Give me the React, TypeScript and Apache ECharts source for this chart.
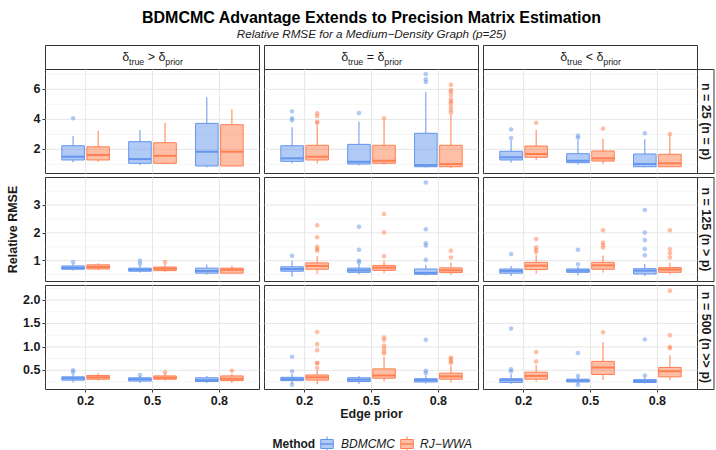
import React, { useEffect, useRef } from 'react';
import * as echarts from 'echarts';

// ---------- categories / labels ----------
const edgePriors = ['0.2', '0.5', '0.8'];
const methods = ['BDMCMC', 'RJ−WWA'];
const relations = ['>', '=', '<'];
const sampleSizeLabels = ['n = 25 (n = p)', 'n = 125 (n > p)', 'n = 500 (n >> p)'];

// ---------- y axes per row ----------
const yRanges = [[0.39, 7.32], [0.25, 3.99], [0.09, 2.31]];
const yMajorTicks = [[2, 4, 6], [1, 2, 3], [0.5, 1.0, 1.5, 2.0]];
const yMinorTicks = [[1, 3, 5, 7], [0.5, 1.5, 2.5, 3.5], [0.25, 0.75, 1.25, 1.75, 2.25]];
const yDecimals = [0, 0, 1];

// ---------- box stats: [lower whisker, q1, median, q3, upper whisker] ; [scenario][edge prior] ----------
const bdmcmcN25 = [
  [[1.13, 1.29, 1.51, 2.24, 2.89], [0.95, 1.07, 1.35, 2.51, 3.29], [0.80, 0.89, 1.84, 3.73, 5.47]],
  [[1.07, 1.20, 1.40, 2.24, 3.47], [0.93, 1.02, 1.17, 2.33, 3.84], [0.78, 0.84, 0.95, 3.07, 5.82]],
  [[1.11, 1.29, 1.47, 1.87, 2.60], [1.00, 1.11, 1.24, 1.71, 2.62], [0.80, 0.84, 1.02, 1.69, 2.67]],
];
const rjwwaN25 = [
  [[1.17, 1.29, 1.62, 2.17, 3.24], [1.02, 1.07, 1.57, 2.44, 3.77], [0.85, 0.89, 1.84, 3.64, 4.67]],
  [[1.07, 1.29, 1.51, 2.27, 3.62], [0.98, 1.07, 1.24, 2.27, 3.98], [0.76, 0.84, 1.02, 2.27, 4.30]],
  [[1.29, 1.47, 1.69, 2.22, 3.29], [1.02, 1.22, 1.40, 1.89, 2.71], [0.80, 0.84, 1.07, 1.67, 2.95]],
];
const bdmcmcN25Outliers = [
  [[4.07], [], []],
  [[4.53, 4.07, 3.93], [4.42], [7.02, 6.67, 6.49]],
  [[3.33, 2.75], [2.91, 2.78], [3.07]],
];
const rjwwaN25Outliers = [
  [[], [], []],
  [[4.40, 4.22, 3.84, 3.77], [4.07], [6.31, 5.96, 5.84, 5.62, 5.33, 5.18, 5.07, 4.84, 4.62, 4.44]],
  [[3.77], [3.38], [3.02]],
];

const bdmcmcN125 = [
  [[0.64, 0.69, 0.74, 0.81, 0.90], [0.57, 0.62, 0.67, 0.73, 0.82], [0.50, 0.55, 0.63, 0.73, 0.86]],
  [[0.42, 0.62, 0.70, 0.78, 1.00], [0.51, 0.58, 0.65, 0.73, 0.88], [0.47, 0.51, 0.56, 0.70, 0.85]],
  [[0.45, 0.55, 0.63, 0.70, 0.81], [0.47, 0.58, 0.64, 0.70, 0.78], [0.45, 0.52, 0.64, 0.71, 0.88]],
];
const rjwwaN125 = [
  [[0.66, 0.70, 0.77, 0.85, 0.90], [0.60, 0.64, 0.71, 0.77, 0.88], [0.52, 0.55, 0.67, 0.73, 0.82]],
  [[0.52, 0.69, 0.81, 0.92, 1.17], [0.55, 0.65, 0.75, 0.83, 1.00], [0.49, 0.57, 0.65, 0.74, 0.93]],
  [[0.53, 0.68, 0.82, 0.94, 1.20], [0.57, 0.69, 0.83, 0.94, 1.19], [0.50, 0.58, 0.68, 0.75, 0.93]],
];
const bdmcmcN125Outliers = [
  [[0.95], [1.00, 0.89], []],
  [[1.18], [2.22, 1.39, 1.00, 0.94], [3.81, 2.13, 1.63, 1.54, 1.03]],
  [[1.24], [1.39, 0.87], [2.82, 2.01, 1.74, 1.42, 1.19]],
];
const rjwwaN125Outliers = [
  [[], [0.95], []],
  [[2.27, 1.84, 1.50, 1.42, 1.36], [2.68, 2.02, 1.16], [1.36, 1.11]],
  [[1.78, 1.47, 1.39, 1.31], [2.09, 1.65, 1.56, 1.47], [2.09, 1.41, 1.27, 1.11]],
];

const bdmcmcN500 = [
  [[0.24, 0.29, 0.33, 0.36, 0.42], [0.23, 0.27, 0.31, 0.34, 0.38], [0.23, 0.26, 0.29, 0.34, 0.38]],
  [[0.21, 0.28, 0.31, 0.35, 0.42], [0.21, 0.26, 0.30, 0.34, 0.38], [0.22, 0.25, 0.29, 0.32, 0.39]],
  [[0.21, 0.24, 0.29, 0.32, 0.42], [0.22, 0.25, 0.28, 0.31, 0.36], [0.22, 0.24, 0.27, 0.30, 0.35]],
];
const rjwwaN500 = [
  [[0.28, 0.31, 0.35, 0.39, 0.44], [0.28, 0.31, 0.34, 0.38, 0.44], [0.23, 0.28, 0.32, 0.38, 0.42]],
  [[0.20, 0.29, 0.35, 0.40, 0.50], [0.26, 0.33, 0.39, 0.53, 0.79], [0.24, 0.31, 0.37, 0.44, 0.60]],
  [[0.26, 0.31, 0.38, 0.46, 0.61], [0.29, 0.41, 0.56, 0.69, 1.10], [0.29, 0.36, 0.48, 0.56, 0.82]],
];
const bdmcmcN500Outliers = [
  [[0.50, 0.46], [0.40], []],
  [[0.79, 0.48, 0.19], [], [1.15, 0.49, 0.44]],
  [[1.39, 0.52, 0.48], [0.87, 0.38, 0.19], [1.16, 0.39]],
];
const rjwwaN500Outliers = [
  [[], [0.46], [0.49]],
  [[1.32, 1.06, 0.93, 0.66, 0.65, 0.55], [1.20, 1.15, 1.03, 0.97, 0.90, 0.86], [0.77, 0.74, 0.69, 0.66]],
  [[0.89, 0.69], [1.31], [2.20, 1.25, 1.00, 0.97]],
];

// ---------- layout / style ----------
const COLS = [45.5, 264.5, 483.5];
const PW = 214;
const ROWS = [69.5, 177.5, 285.5];
const PH = 104;
const STRIP_TOP = 45.5;
const STRIP_H = 24;
const STRIP_R_W = 16.5;
const COLORS = ['#6495ED', '#FF7F50'];
const FILLS = ['rgba(100,149,237,0.5)', 'rgba(255,127,80,0.5)'];
const DODGE = [-0.1875, 0.1875];
const HALF = 0.16875;
const FONT = '"Liberation Sans", Arial, Helvetica, sans-serif';
const INK = '#1a1a1a';

const statsByRow = [[bdmcmcN25, rjwwaN25], [bdmcmcN125, rjwwaN125], [bdmcmcN500, rjwwaN500]];
const outByRow = [
  [bdmcmcN25Outliers, rjwwaN25Outliers],
  [bdmcmcN125Outliers, rjwwaN125Outliers],
  [bdmcmcN500Outliers, rjwwaN500Outliers],
];

let measureCtx: CanvasRenderingContext2D | null = null;
function measure(text: string, size: number, weight = 'normal', style = 'normal') {
  if (!measureCtx) measureCtx = document.createElement('canvas').getContext('2d');
  measureCtx!.font = `${style} ${weight} ${size}px ${FONT}`;
  return measureCtx!.measureText(text).width;
}

function stripLabel(cx: number, rel: string) {
  const main = 12.5;
  const sub = 8.75;
  const yMain = STRIP_TOP + STRIP_H / 2 - 0.5;
  const ySub = yMain + 4.5;
  const parts = [
    { t: 'δ', s: main, y: yMain },
    { t: 'true', s: sub, y: ySub },
    { t: ' ' + rel + ' ', s: main, y: yMain },
    { t: 'δ', s: main, y: yMain },
    { t: 'prior', s: sub, y: ySub },
  ];
  const widths = parts.map((p) => measure(p.t, p.s));
  const total = widths.reduce((a, b) => a + b, 0);
  let x = cx - total / 2;
  const els: any[] = [];
  parts.forEach((p, i) => {
    els.push({
      type: 'text',
      x,
      y: p.y,
      silent: true,
      style: { text: p.t, fontSize: p.s, fontFamily: FONT, fill: INK, align: 'left', verticalAlign: 'middle' },
    });
    x += widths[i];
  });
  return els;
}

function legendKey(cx: number, m: number) {
  const top = 436.5;
  return [
    { type: 'line', shape: { x1: cx, y1: top, x2: cx, y2: top + 3 }, style: { stroke: COLORS[m], lineWidth: 1 } },
    { type: 'line', shape: { x1: cx, y1: top + 12, x2: cx, y2: top + 15 }, style: { stroke: COLORS[m], lineWidth: 1 } },
    { type: 'rect', shape: { x: cx - 6.3, y: top + 3, width: 12.6, height: 9 }, style: { fill: FILLS[m], stroke: COLORS[m], lineWidth: 1 } },
    { type: 'line', shape: { x1: cx - 6.3, y1: top + 7.5, x2: cx + 6.3, y2: top + 7.5 }, style: { stroke: COLORS[m], lineWidth: 1.5 } },
  ];
}

function buildOption() {
  const grid: any[] = [];
  const xAxis: any[] = [];
  const yAxis: any[] = [];
  const series: any[] = [];
  const graphic: any[] = [];

  for (let r = 0; r < 3; r++) {
    for (let c = 0; c < 3; c++) {
      const idx = r * 3 + c;
      const [ymin, ymax] = yRanges[r];
      grid.push({
        left: COLS[c], top: ROWS[r], width: PW, height: PH,
        show: true, borderColor: '#333333', borderWidth: 1, backgroundColor: '#ffffff',
      });
      xAxis.push({
        gridIndex: idx, type: 'value', min: 0.4, max: 3.6,
        splitLine: { show: false }, axisLine: { show: false },
        axisTick: r === 2 ? { show: true, customValues: [1, 2, 3], length: 3, lineStyle: { color: '#333333' } } : { show: false },
        axisLabel: r === 2 ? {
          show: true, customValues: [1, 2, 3], margin: 5,
          formatter: (v: number) => edgePriors[Math.round(v) - 1],
          fontSize: 12.5, fontWeight: 'bold', color: INK, fontFamily: FONT,
        } : { show: false },
      });
      yAxis.push({
        gridIndex: idx, type: 'value', min: ymin, max: ymax,
        splitLine: { show: false }, axisLine: { show: false },
        axisTick: c === 0 ? { show: true, customValues: yMajorTicks[r], length: 3, lineStyle: { color: '#333333' } } : { show: false },
        axisLabel: c === 0 ? {
          show: true, customValues: yMajorTicks[r], margin: 5,
          formatter: (v: number) => v.toFixed(yDecimals[r]),
          fontSize: 12.5, fontWeight: 'bold', color: INK, fontFamily: FONT,
        } : { show: false },
      });

      // grid lines
      const lineData: number[][] = [
        ...yMajorTicks[r].map((v) => [0, v]),
        ...yMinorTicks[r].map((v) => [1, v]),
        ...edgePriors.map((_, i) => [2, i + 1]),
      ];
      series.push({
        type: 'custom', xAxisIndex: idx, yAxisIndex: idx, z: 1, silent: true,
        data: lineData,
        renderItem: (params: any, api: any) => {
          const kind = api.value(0);
          const v = api.value(1);
          const cs = params.coordSys;
          if (kind === 2) {
            const x = api.coord([v, ymin])[0];
            return { type: 'line', shape: { x1: x, y1: cs.y, x2: x, y2: cs.y + cs.height }, style: { stroke: '#E6E6E6', lineWidth: 1 } };
          }
          const y = api.coord([2, v])[1];
          return {
            type: 'line', shape: { x1: cs.x, y1: y, x2: cs.x + cs.width, y2: y },
            style: { stroke: kind === 0 ? '#E6E6E6' : '#F1F1F1', lineWidth: kind === 0 ? 1 : 0.7 },
          };
        },
      });

      for (let m = 0; m < 2; m++) {
        const stats = statsByRow[r][m][c];
        const outs = outByRow[r][m][c];
        // outliers
        const outData: number[][] = [];
        outs.forEach((list: number[], p: number) => list.forEach((v) => outData.push([p + 1 + DODGE[m], v])));
        series.push({
          type: 'scatter', xAxisIndex: idx, yAxisIndex: idx, z: 2, silent: true,
          symbol: 'circle', symbolSize: 4.6,
          itemStyle: { color: COLORS[m], opacity: 0.5 },
          data: outData,
        });
        // boxes
        series.push({
          type: 'custom', xAxisIndex: idx, yAxisIndex: idx, z: 3, silent: true,
          data: stats.map((s: number[], p: number) => [p + 1, ...s]),
          encode: { x: 0, y: [1, 2, 3, 4, 5] },
          renderItem: (params: any, api: any) => {
            const xc = api.value(0) + DODGE[m];
            const lo = api.value(1), q1 = api.value(2), med = api.value(3), q3 = api.value(4), hi = api.value(5);
            const xL = api.coord([xc - HALF, lo])[0];
            const xR = api.coord([xc + HALF, lo])[0];
            const xM = api.coord([xc, lo])[0];
            const yLo = api.coord([xc, lo])[1];
            const yQ1 = api.coord([xc, q1])[1];
            const yMed = api.coord([xc, med])[1];
            const yQ3 = api.coord([xc, q3])[1];
            const yHi = api.coord([xc, hi])[1];
            return {
              type: 'group',
              children: [
                { type: 'line', shape: { x1: xM, y1: yQ3, x2: xM, y2: yHi }, style: { stroke: COLORS[m], lineWidth: 1 } },
                { type: 'line', shape: { x1: xM, y1: yQ1, x2: xM, y2: yLo }, style: { stroke: COLORS[m], lineWidth: 1 } },
                { type: 'rect', shape: { x: xL, y: yQ3, width: xR - xL, height: yQ1 - yQ3 }, style: { fill: FILLS[m], stroke: COLORS[m], lineWidth: 1 } },
                { type: 'line', shape: { x1: xL, y1: yMed, x2: xR, y2: yMed }, style: { stroke: COLORS[m], lineWidth: 2 } },
              ],
            };
          },
        });
      }
    }
  }

  // top strips
  for (let c = 0; c < 3; c++) {
    graphic.push({
      type: 'rect', silent: true,
      shape: { x: COLS[c], y: STRIP_TOP, width: PW, height: STRIP_H },
      style: { fill: '#ffffff', stroke: '#333333', lineWidth: 1 },
    });
    graphic.push(...stripLabel(COLS[c] + PW / 2, relations[c]));
  }
  // right strips
  const rx = COLS[2] + PW;
  for (let r = 0; r < 3; r++) {
    graphic.push({
      type: 'rect', silent: true,
      shape: { x: rx, y: ROWS[r], width: STRIP_R_W, height: PH },
      style: { fill: '#ffffff', stroke: '#333333', lineWidth: 1 },
    });
    graphic.push({
      type: 'text', silent: true, x: rx + STRIP_R_W / 2 + 0.5, y: ROWS[r] + PH / 2, rotation: -Math.PI / 2,
      style: { text: sampleSizeLabels[r], fontSize: 12.5, fontWeight: 'bold', fontFamily: FONT, fill: INK, align: 'center', verticalAlign: 'middle' },
    });
  }

  const panelCenterX = (COLS[0] + COLS[2] + PW) / 2;
  // titles
  graphic.push({
    type: 'text', silent: true, x: panelCenterX, y: 17,
    style: { text: 'BDMCMC Advantage Extends to Precision Matrix Estimation', fontSize: 16, fontWeight: 'bold', fontFamily: FONT, fill: '#000000', align: 'center', verticalAlign: 'middle' },
  });
  graphic.push({
    type: 'text', silent: true, x: panelCenterX, y: 33.5,
    style: { text: 'Relative RMSE for a Medium−Density Graph (p=25)', fontSize: 11.7, fontStyle: 'italic', fontFamily: FONT, fill: INK, align: 'center', verticalAlign: 'middle' },
  });
  // axis titles
  graphic.push({
    type: 'text', silent: true, x: panelCenterX, y: 414,
    style: { text: 'Edge prior', fontSize: 12.5, fontWeight: 'bold', fontFamily: FONT, fill: INK, align: 'center', verticalAlign: 'middle' },
  });
  graphic.push({
    type: 'text', silent: true, x: 13, y: (ROWS[0] + ROWS[2] + PH) / 2, rotation: Math.PI / 2,
    style: { text: 'Relative RMSE', fontSize: 12.5, fontWeight: 'bold', fontFamily: FONT, fill: INK, align: 'center', verticalAlign: 'middle' },
  });
  // legend
  graphic.push({
    type: 'text', silent: true, x: 272.5, y: 444,
    style: { text: 'Method', fontSize: 12, fontWeight: 'bold', fontFamily: FONT, fill: INK, align: 'left', verticalAlign: 'middle' },
  });
  graphic.push({ type: 'group', silent: true, children: legendKey(327, 0) });
  graphic.push({
    type: 'text', silent: true, x: 341, y: 444,
    style: { text: methods[0], fontSize: 12, fontStyle: 'italic', fontFamily: FONT, fill: INK, align: 'left', verticalAlign: 'middle' },
  });
  graphic.push({ type: 'group', silent: true, children: legendKey(407, 1) });
  graphic.push({
    type: 'text', silent: true, x: 420, y: 444,
    style: { text: methods[1], fontSize: 12, fontStyle: 'italic', fontFamily: FONT, fill: INK, align: 'left', verticalAlign: 'middle' },
  });

  return {
    animation: false,
    backgroundColor: '#ffffff',
    textStyle: { fontFamily: FONT },
    grid, xAxis, yAxis, series, graphic,
  };
}

export default function App() {
  const ref = useRef<HTMLDivElement>(null);
  useEffect(() => {
    if (!ref.current) return;
    const chart = echarts.init(ref.current, undefined, { renderer: 'svg' });
    chart.setOption(buildOption() as any);
    return () => chart.dispose();
  }, []);
  return <div ref={ref} style={{ position: 'absolute', left: 0, top: 0, width: 716, height: 450 }} />;
}
